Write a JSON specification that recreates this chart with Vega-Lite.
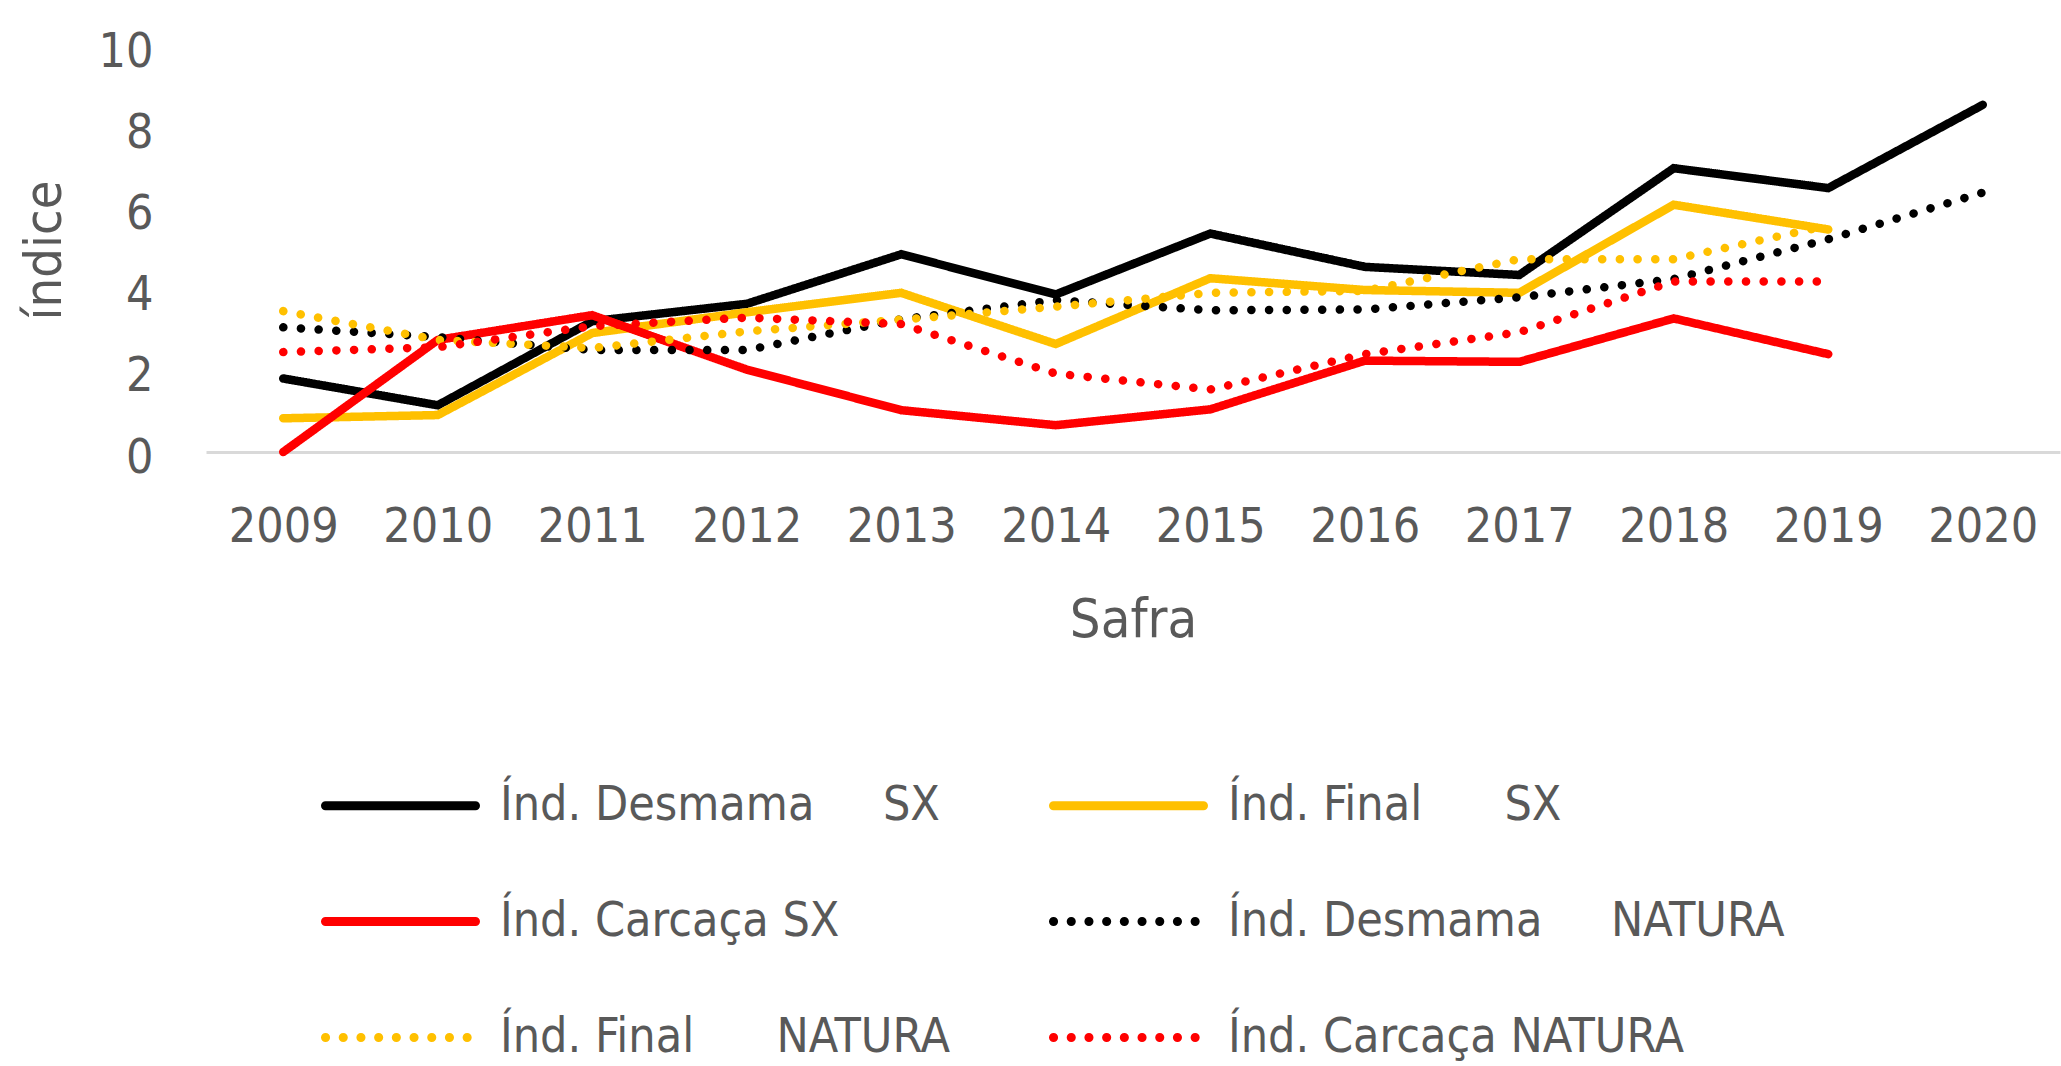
{
  "$schema": "https://vega.github.io/schema/vega-lite/v6.json",
  "autosize": "none",
  "width": 1854,
  "height": 406,
  "padding": {"left": 206, "top": 46, "right": 1, "bottom": 614},
  "background": "#ffffff",
  "config": {
    "view": {"stroke": null},
    "font": "DejaVu Sans Condensed, Liberation Sans Narrow, sans-serif"
  },
  "data": {"values": [
    {"year": "2009", "series": "Índ. Desmama\u00a0\u00a0\u00a0\u00a0\u00a0SX", "value": 1.81},
    {"year": "2010", "series": "Índ. Desmama\u00a0\u00a0\u00a0\u00a0\u00a0SX", "value": 1.15},
    {"year": "2011", "series": "Índ. Desmama\u00a0\u00a0\u00a0\u00a0\u00a0SX", "value": 3.22},
    {"year": "2012", "series": "Índ. Desmama\u00a0\u00a0\u00a0\u00a0\u00a0SX", "value": 3.65},
    {"year": "2013", "series": "Índ. Desmama\u00a0\u00a0\u00a0\u00a0\u00a0SX", "value": 4.87},
    {"year": "2014", "series": "Índ. Desmama\u00a0\u00a0\u00a0\u00a0\u00a0SX", "value": 3.88},
    {"year": "2015", "series": "Índ. Desmama\u00a0\u00a0\u00a0\u00a0\u00a0SX", "value": 5.38},
    {"year": "2016", "series": "Índ. Desmama\u00a0\u00a0\u00a0\u00a0\u00a0SX", "value": 4.56},
    {"year": "2017", "series": "Índ. Desmama\u00a0\u00a0\u00a0\u00a0\u00a0SX", "value": 4.36},
    {"year": "2018", "series": "Índ. Desmama\u00a0\u00a0\u00a0\u00a0\u00a0SX", "value": 6.99},
    {"year": "2019", "series": "Índ. Desmama\u00a0\u00a0\u00a0\u00a0\u00a0SX", "value": 6.50},
    {"year": "2020", "series": "Índ. Desmama\u00a0\u00a0\u00a0\u00a0\u00a0SX", "value": 8.55},

    {"year": "2009", "series": "Índ. Final\u00a0\u00a0\u00a0\u00a0\u00a0\u00a0SX", "value": 0.83},
    {"year": "2010", "series": "Índ. Final\u00a0\u00a0\u00a0\u00a0\u00a0\u00a0SX", "value": 0.91},
    {"year": "2011", "series": "Índ. Final\u00a0\u00a0\u00a0\u00a0\u00a0\u00a0SX", "value": 2.93},
    {"year": "2012", "series": "Índ. Final\u00a0\u00a0\u00a0\u00a0\u00a0\u00a0SX", "value": 3.44},
    {"year": "2013", "series": "Índ. Final\u00a0\u00a0\u00a0\u00a0\u00a0\u00a0SX", "value": 3.92},
    {"year": "2014", "series": "Índ. Final\u00a0\u00a0\u00a0\u00a0\u00a0\u00a0SX", "value": 2.66},
    {"year": "2015", "series": "Índ. Final\u00a0\u00a0\u00a0\u00a0\u00a0\u00a0SX", "value": 4.28},
    {"year": "2016", "series": "Índ. Final\u00a0\u00a0\u00a0\u00a0\u00a0\u00a0SX", "value": 3.99},
    {"year": "2017", "series": "Índ. Final\u00a0\u00a0\u00a0\u00a0\u00a0\u00a0SX", "value": 3.92},
    {"year": "2018", "series": "Índ. Final\u00a0\u00a0\u00a0\u00a0\u00a0\u00a0SX", "value": 6.09},
    {"year": "2019", "series": "Índ. Final\u00a0\u00a0\u00a0\u00a0\u00a0\u00a0SX", "value": 5.48},

    {"year": "2009", "series": "Índ. Carcaça SX", "value": 0.0},
    {"year": "2010", "series": "Índ. Carcaça SX", "value": 2.76},
    {"year": "2011", "series": "Índ. Carcaça SX", "value": 3.37},
    {"year": "2012", "series": "Índ. Carcaça SX", "value": 2.03},
    {"year": "2013", "series": "Índ. Carcaça SX", "value": 1.03},
    {"year": "2014", "series": "Índ. Carcaça SX", "value": 0.66},
    {"year": "2015", "series": "Índ. Carcaça SX", "value": 1.05},
    {"year": "2016", "series": "Índ. Carcaça SX", "value": 2.25},
    {"year": "2017", "series": "Índ. Carcaça SX", "value": 2.22},
    {"year": "2018", "series": "Índ. Carcaça SX", "value": 3.29},
    {"year": "2019", "series": "Índ. Carcaça SX", "value": 2.41},

    {"year": "2009", "series": "Índ. Desmama\u00a0\u00a0\u00a0\u00a0\u00a0NATURA", "value": 3.07},
    {"year": "2010", "series": "Índ. Desmama\u00a0\u00a0\u00a0\u00a0\u00a0NATURA", "value": 2.83},
    {"year": "2011", "series": "Índ. Desmama\u00a0\u00a0\u00a0\u00a0\u00a0NATURA", "value": 2.51},
    {"year": "2012", "series": "Índ. Desmama\u00a0\u00a0\u00a0\u00a0\u00a0NATURA", "value": 2.51},
    {"year": "2013", "series": "Índ. Desmama\u00a0\u00a0\u00a0\u00a0\u00a0NATURA", "value": 3.27},
    {"year": "2014", "series": "Índ. Desmama\u00a0\u00a0\u00a0\u00a0\u00a0NATURA", "value": 3.74},
    {"year": "2015", "series": "Índ. Desmama\u00a0\u00a0\u00a0\u00a0\u00a0NATURA", "value": 3.49},
    {"year": "2016", "series": "Índ. Desmama\u00a0\u00a0\u00a0\u00a0\u00a0NATURA", "value": 3.51},
    {"year": "2017", "series": "Índ. Desmama\u00a0\u00a0\u00a0\u00a0\u00a0NATURA", "value": 3.81},
    {"year": "2018", "series": "Índ. Desmama\u00a0\u00a0\u00a0\u00a0\u00a0NATURA", "value": 4.26},
    {"year": "2019", "series": "Índ. Desmama\u00a0\u00a0\u00a0\u00a0\u00a0NATURA", "value": 5.24},
    {"year": "2020", "series": "Índ. Desmama\u00a0\u00a0\u00a0\u00a0\u00a0NATURA", "value": 6.39},

    {"year": "2009", "series": "Índ. Final\u00a0\u00a0\u00a0\u00a0\u00a0\u00a0NATURA", "value": 3.47},
    {"year": "2010", "series": "Índ. Final\u00a0\u00a0\u00a0\u00a0\u00a0\u00a0NATURA", "value": 2.76},
    {"year": "2011", "series": "Índ. Final\u00a0\u00a0\u00a0\u00a0\u00a0\u00a0NATURA", "value": 2.56},
    {"year": "2012", "series": "Índ. Final\u00a0\u00a0\u00a0\u00a0\u00a0\u00a0NATURA", "value": 2.97},
    {"year": "2013", "series": "Índ. Final\u00a0\u00a0\u00a0\u00a0\u00a0\u00a0NATURA", "value": 3.26},
    {"year": "2014", "series": "Índ. Final\u00a0\u00a0\u00a0\u00a0\u00a0\u00a0NATURA", "value": 3.58},
    {"year": "2015", "series": "Índ. Final\u00a0\u00a0\u00a0\u00a0\u00a0\u00a0NATURA", "value": 3.92},
    {"year": "2016", "series": "Índ. Final\u00a0\u00a0\u00a0\u00a0\u00a0\u00a0NATURA", "value": 3.97},
    {"year": "2017", "series": "Índ. Final\u00a0\u00a0\u00a0\u00a0\u00a0\u00a0NATURA", "value": 4.75},
    {"year": "2018", "series": "Índ. Final\u00a0\u00a0\u00a0\u00a0\u00a0\u00a0NATURA", "value": 4.75},
    {"year": "2019", "series": "Índ. Final\u00a0\u00a0\u00a0\u00a0\u00a0\u00a0NATURA", "value": 5.58},

    {"year": "2009", "series": "Índ. Carcaça NATURA", "value": 2.46},
    {"year": "2010", "series": "Índ. Carcaça NATURA", "value": 2.58},
    {"year": "2011", "series": "Índ. Carcaça NATURA", "value": 3.10},
    {"year": "2012", "series": "Índ. Carcaça NATURA", "value": 3.31},
    {"year": "2013", "series": "Índ. Carcaça NATURA", "value": 3.15},
    {"year": "2014", "series": "Índ. Carcaça NATURA", "value": 1.93},
    {"year": "2015", "series": "Índ. Carcaça NATURA", "value": 1.54},
    {"year": "2016", "series": "Índ. Carcaça NATURA", "value": 2.41},
    {"year": "2017", "series": "Índ. Carcaça NATURA", "value": 2.95},
    {"year": "2018", "series": "Índ. Carcaça NATURA", "value": 4.20},
    {"year": "2019", "series": "Índ. Carcaça NATURA", "value": 4.20}
  ]},
  "mark": {"type": "line", "strokeWidth": 8.5, "strokeCap": "round", "strokeJoin": "miter"},
  "encoding": {
    "x": {
      "field": "year", "type": "ordinal",
      "scale": {"type": "point", "padding": 0.5},
      "axis": {
        "title": "Safra",
        "titleFontSize": 54, "titleColor": "#595959", "titleFontWeight": "normal",
        "titleBaseline": "alphabetic", "titleX": 927, "titleY": 184, "titleAlign": "center",
        "labelAngle": 0, "labelFontSize": 48, "labelColor": "#595959",
        "labelBaseline": "top", "labelPadding": 51,
        "ticks": false, "tickSize": 0,
        "domain": true, "domainColor": "#d9d9d9", "domainWidth": 3,
        "grid": false
      }
    },
    "y": {
      "field": "value", "type": "quantitative",
      "scale": {"domain": [0, 10], "nice": false, "zero": true},
      "axis": {
        "title": "índice",
        "titleFontSize": 52, "titleColor": "#595959", "titleFontWeight": "normal",
        "titleAngle": -90, "titleBaseline": "alphabetic", "titleAlign": "center",
        "titleX": -146, "titleY": 204,
        "values": [0, 2, 4, 6, 8, 10],
        "labelFontSize": 48, "labelColor": "#595959",
        "labelPadding": 53, "labelBaseline": "middle", "labelOffset": 6,
        "ticks": false, "tickSize": 0, "domain": false, "grid": false
      }
    },
    "color": {
      "field": "series", "type": "nominal",
      "scale": {
        "domain": [
          "Índ. Desmama\u00a0\u00a0\u00a0\u00a0\u00a0SX",
          "Índ. Final\u00a0\u00a0\u00a0\u00a0\u00a0\u00a0SX",
          "Índ. Carcaça SX",
          "Índ. Desmama\u00a0\u00a0\u00a0\u00a0\u00a0NATURA",
          "Índ. Final\u00a0\u00a0\u00a0\u00a0\u00a0\u00a0NATURA",
          "Índ. Carcaça NATURA"
        ],
        "range": ["#000000", "#FFC000", "#FF0000", "#000000", "#FFC000", "#FF0000"]
      },
      "legend": {
        "title": null, "direction": "horizontal",
        "orient": "none", "legendX": 115, "legendY": 680,
        "columns": 2, "columnPadding": 84, "rowPadding": 12,
        "symbolType": "stroke", "symbolSize": 22500, "symbolStrokeWidth": 9,
        "labelFontSize": 48, "labelColor": "#595959", "labelOffset": 20, "labelLimit": 0,
        "encode": {"symbols": {"update": {"strokeCap": {"value": "round"}}}}
      }
    },
    "strokeDash": {
      "field": "series", "type": "nominal",
      "scale": {
        "domain": [
          "Índ. Desmama\u00a0\u00a0\u00a0\u00a0\u00a0SX",
          "Índ. Final\u00a0\u00a0\u00a0\u00a0\u00a0\u00a0SX",
          "Índ. Carcaça SX",
          "Índ. Desmama\u00a0\u00a0\u00a0\u00a0\u00a0NATURA",
          "Índ. Final\u00a0\u00a0\u00a0\u00a0\u00a0\u00a0NATURA",
          "Índ. Carcaça NATURA"
        ],
        "range": [[1, 0], [1, 0], [1, 0], [0.1, 17.6], [0.1, 17.6], [0.1, 17.6]]
      },
      "legend": {
        "title": null, "direction": "horizontal",
        "orient": "none", "legendX": 115, "legendY": 680,
        "columns": 2, "columnPadding": 84, "rowPadding": 12,
        "symbolType": "stroke", "symbolSize": 22500, "symbolStrokeWidth": 9,
        "labelFontSize": 48, "labelColor": "#595959", "labelOffset": 20, "labelLimit": 0,
        "encode": {"symbols": {"update": {"strokeCap": {"value": "round"}}}}
      }
    }
  }
}
